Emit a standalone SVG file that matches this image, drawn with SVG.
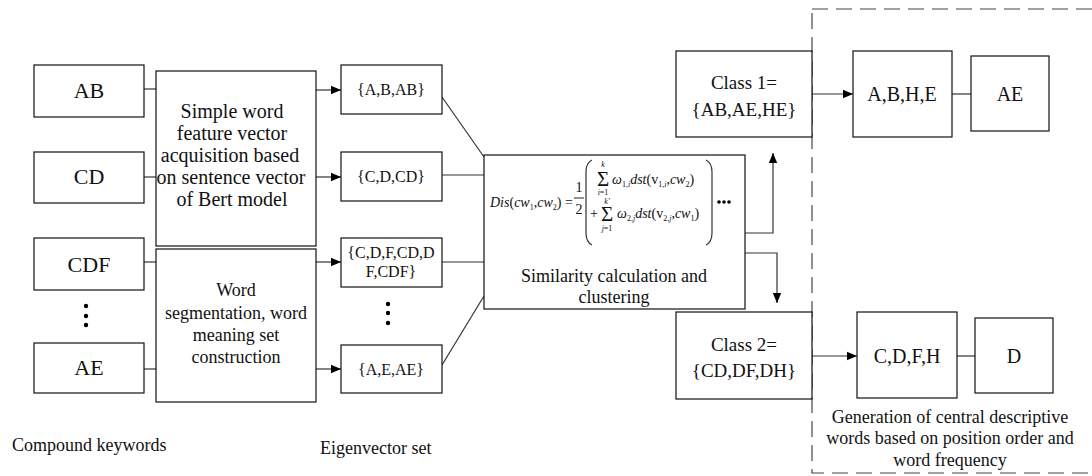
<svg xmlns="http://www.w3.org/2000/svg" width="1092" height="476" viewBox="0 0 1092 476" font-family="'Liberation Serif', 'Times New Roman', serif">
  <defs>
    <marker id="arrow" viewBox="0 0 10 10" refX="10" refY="5" markerWidth="10" markerHeight="10" markerUnits="userSpaceOnUse" orient="auto">
      <path d="M0,0.8 L10,5 L0,9.2 Z" fill="#000"/>
    </marker>
    <style>
      .box { fill: #fff; stroke: #111; stroke-width: 1.2; }
      .line { fill: none; stroke: #333; stroke-width: 1.2; }
      .arr { fill: none; stroke: #333; stroke-width: 1.2; marker-end: url(#arrow); }
      .dash { fill: none; stroke: #444; stroke-width: 1.2; stroke-dasharray: 16 8; }
      text { font-family: "Liberation Serif", "Times New Roman", serif; fill: #111; }
      .c { text-anchor: middle; }
      .kw { font-size: 22px; }
      .proc { font-size: 20px; }
      .proc2 { font-size: 18px; }
      .set { font-size: 16px; }
      .cls { font-size: 19px; }
      .res { font-size: 20px; }
      .cap { font-size: 18px; }
      .f { font-size: 14px; }
      .fs { font-size: 8px; }
      .sig { font-size: 21px; }
      .it { font-style: italic; }
      .dot { fill: #000; }
    </style>
  </defs>

  <!-- dashed frame around the generation stage -->
  <rect class="dash" x="812" y="9" width="290" height="464"/>

  <!-- connectors -->
  <g id="connectors">
    <line class="line" x1="144" y1="89" x2="156" y2="89"/>
    <line class="line" x1="144" y1="177" x2="156" y2="177"/>
    <line class="line" x1="144" y1="262" x2="156" y2="262"/>
    <line class="line" x1="144" y1="369" x2="156" y2="369"/>

    <line class="arr" x1="316" y1="90" x2="341" y2="90"/>
    <line class="arr" x1="316" y1="177" x2="341" y2="177"/>
    <line class="arr" x1="316" y1="262" x2="341" y2="262"/>
    <line class="arr" x1="316" y1="369" x2="341" y2="369"/>

    <line class="line" x1="442" y1="97" x2="484" y2="157"/>
    <line class="line" x1="442" y1="175" x2="484" y2="175"/>
    <line class="line" x1="442" y1="262" x2="484" y2="262"/>
    <line class="line" x1="442" y1="365" x2="484" y2="296"/>

    <polyline class="arr" points="745,233 773,233 773,153"/>
    <polyline class="arr" points="745,253 777,253 777,303"/>

    <line class="arr" x1="812" y1="94" x2="853" y2="94"/>
    <line class="line" x1="952" y1="94" x2="971" y2="94"/>
    <line class="arr" x1="812" y1="356" x2="857" y2="356"/>
    <line class="line" x1="957" y1="356" x2="975" y2="356"/>
  </g>

  <!-- compound keywords -->
  <g id="kw-ab">
    <rect class="box" x="34" y="65" width="110" height="52"/>
    <text class="kw c" x="89" y="98">AB</text>
  </g>
  <g id="kw-cd">
    <rect class="box" x="34" y="152" width="110" height="51"/>
    <text class="kw c" x="89" y="184">CD</text>
  </g>
  <g id="kw-cdf">
    <rect class="box" x="34" y="238" width="110" height="52"/>
    <text class="kw c" x="89" y="272">CDF</text>
  </g>
  <g id="kw-more">
    <circle class="dot" cx="86" cy="306" r="2.2"/>
    <circle class="dot" cx="86" cy="316" r="2.2"/>
    <circle class="dot" cx="86" cy="325" r="2.2"/>
  </g>
  <g id="kw-ae">
    <rect class="box" x="34" y="343" width="110" height="50"/>
    <text class="kw c" x="89" y="375">AE</text>
  </g>

  <!-- processing blocks -->
  <g id="bert">
    <rect class="box" x="156" y="71" width="160" height="175"/>
    <text class="proc c" x="232" y="118">Simple word</text>
    <text class="proc c" x="232" y="140">feature vector</text>
    <text class="proc c" x="230" y="162">acquisition based</text>
    <text class="proc c" x="231" y="184">on sentence vector</text>
    <text class="proc c" x="232" y="206">of Bert model</text>
  </g>
  <g id="segment">
    <rect class="box" x="156" y="249" width="160" height="153"/>
    <text class="proc2 c" x="236" y="296">Word</text>
    <text class="proc2 c" x="236" y="319">segmentation, word</text>
    <text class="proc2 c" x="236" y="341">meaning set</text>
    <text class="proc2 c" x="236" y="363">construction</text>
  </g>

  <!-- eigenvector sets -->
  <g id="set-ab">
    <rect class="box" x="341" y="65" width="101" height="49"/>
    <text class="set c" x="391" y="95">{A,B,AB}</text>
  </g>
  <g id="set-cd">
    <rect class="box" x="341" y="152" width="101" height="49"/>
    <text class="set c" x="391" y="182">{C,D,CD}</text>
  </g>
  <g id="set-cdf">
    <rect class="box" x="341" y="238" width="101" height="49"/>
    <text class="set c" x="391" y="258">{C,D,F,CD,D</text>
    <text class="set c" x="391" y="277">F,CDF}</text>
  </g>
  <g id="set-more">
    <circle class="dot" cx="388" cy="304" r="2.2"/>
    <circle class="dot" cx="388" cy="313" r="2.2"/>
    <circle class="dot" cx="388" cy="323" r="2.2"/>
  </g>
  <g id="set-ae">
    <rect class="box" x="341" y="345" width="101" height="48"/>
    <text class="set c" x="391" y="375">{A,E,AE}</text>
  </g>

  <!-- similarity calculation and clustering -->
  <g id="similarity">
    <rect class="box" x="484" y="155" width="261" height="154"/>
    <text class="f" x="490" y="207"><tspan class="it">Dis</tspan>(<tspan class="it">cw</tspan><tspan font-size="8" dy="3">1</tspan><tspan dy="-3">,</tspan><tspan class="it">cw</tspan><tspan font-size="8" dy="3">2</tspan><tspan dy="-3">) =</tspan></text>
    <text class="f c" x="579" y="192">1</text>
    <line x1="574" y1="198" x2="584" y2="198" stroke="#111" stroke-width="0.9"/>
    <text class="f c" x="579" y="214">2</text>
    <path class="line" d="M592,160 Q586,163 586,172 L586,233 Q586,242 592,245"/>
    <path class="line" d="M706,160 Q712,163 712,172 L712,233 Q712,242 706,245"/>
    <text class="fs c it" x="603" y="167">k</text>
    <text class="sig c" x="603" y="186">Σ</text>
    <text class="fs c" x="603" y="195"><tspan class="it">i</tspan>=1</text>
    <text class="f" x="612" y="184"><tspan class="it">ω</tspan><tspan font-size="8" dy="3">1,<tspan class="it">i</tspan></tspan><tspan dy="-3" class="it">dst</tspan>(v<tspan font-size="8" dy="3">1,<tspan class="it">i</tspan></tspan><tspan dy="-3">,</tspan><tspan class="it">cw</tspan><tspan font-size="8" dy="3">2</tspan><tspan dy="-3">)</tspan></text>
    <text class="f" x="590" y="218">+</text>
    <text class="fs c it" x="607" y="204">k'</text>
    <text class="sig c" x="607" y="221">Σ</text>
    <text class="fs c" x="607" y="231"><tspan class="it">j</tspan>=1</text>
    <text class="f" x="617" y="218"><tspan class="it">ω</tspan><tspan font-size="8" dy="3">2,<tspan class="it">j</tspan></tspan><tspan dy="-3" class="it">dst</tspan>(v<tspan font-size="8" dy="3">2,<tspan class="it">j</tspan></tspan><tspan dy="-3">,</tspan><tspan class="it">cw</tspan><tspan font-size="8" dy="3">1</tspan><tspan dy="-3">)</tspan></text>
    <circle class="dot" cx="719" cy="202" r="1.8"/>
    <circle class="dot" cx="724" cy="202" r="1.8"/>
    <circle class="dot" cx="729" cy="202" r="1.8"/>
    <text class="cap c" x="614" y="282">Similarity calculation and</text>
    <text class="cap c" x="614" y="303">clustering</text>
  </g>

  <!-- clusters -->
  <g id="class1">
    <rect class="box" x="676" y="51" width="136" height="86"/>
    <text class="cls c" x="744" y="89">Class 1=</text>
    <text class="cls c" x="744" y="116">{AB,AE,HE}</text>
  </g>
  <g id="class2">
    <rect class="box" x="676" y="312" width="136" height="87"/>
    <text class="cls c" x="744" y="351">Class 2=</text>
    <text class="cls c" x="744" y="377">{CD,DF,DH}</text>
  </g>

  <!-- central descriptive words -->
  <g id="words1">
    <rect class="box" x="853" y="51" width="99" height="86"/>
    <text class="res c" x="902" y="101">A,B,H,E</text>
  </g>
  <g id="center1">
    <rect class="box" x="971" y="56" width="78" height="75"/>
    <text class="res c" x="1010" y="101">AE</text>
  </g>
  <g id="words2">
    <rect class="box" x="857" y="312" width="100" height="86"/>
    <text class="res c" x="907" y="363">C,D,F,H</text>
  </g>
  <g id="center2">
    <rect class="box" x="975" y="318" width="78" height="75"/>
    <text class="res c" x="1014" y="363">D</text>
  </g>

  <!-- captions -->
  <g id="captions">
    <text class="cap c" x="950" y="423">Generation of central descriptive</text>
    <text class="cap c" x="950" y="444">words based on position order and</text>
    <text class="cap c" x="950" y="466">word frequency</text>
    <text class="cap" x="12" y="451">Compound keywords</text>
    <text class="cap" x="320" y="454">Eigenvector set</text>
  </g>
</svg>
